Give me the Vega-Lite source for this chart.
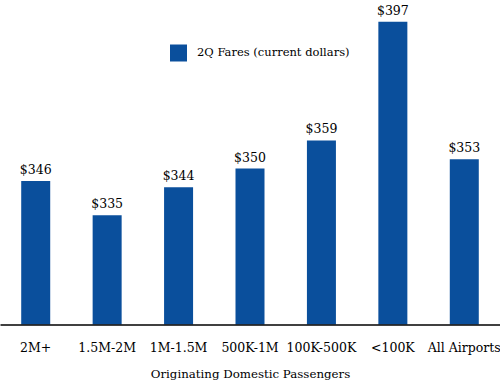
{
  "$schema": "https://vega.github.io/schema/vega-lite/v6.json",
  "autosize": "none",
  "width": 500,
  "height": 312,
  "padding": {"left": 0, "top": 12.5, "right": 0, "bottom": 60.5},
  "background": "white",
  "config": {
    "view": {"stroke": null},
    "font": "DejaVu Serif"
  },
  "data": {
    "values": [
      {"group": "2M+", "fare": 346, "series": "2Q Fares (current dollars)"},
      {"group": "1.5M-2M", "fare": 335, "series": "2Q Fares (current dollars)"},
      {"group": "1M-1.5M", "fare": 344, "series": "2Q Fares (current dollars)"},
      {"group": "500K-1M", "fare": 350, "series": "2Q Fares (current dollars)"},
      {"group": "100K-500K", "fare": 359, "series": "2Q Fares (current dollars)"},
      {"group": "<100K", "fare": 397, "series": "2Q Fares (current dollars)"},
      {"group": "All Airports", "fare": 353, "series": "2Q Fares (current dollars)"}
    ]
  },
  "encoding": {
    "x": {
      "field": "group",
      "type": "nominal",
      "sort": null,
      "scale": {"paddingInner": 0, "paddingOuter": 0},
      "axis": {
        "title": "Originating Domestic Passengers",
        "titleFont": "DejaVu Serif",
        "titleFontSize": 11.8,
        "titleFontWeight": "normal",
        "titleColor": "black",
        "titlePadding": 14,
        "labelFont": "DejaVu Serif",
        "labelFontSize": 12.5,
        "labelColor": "black",
        "labelAngle": 0,
        "labelPadding": 17,
        "labelOverlap": false,
        "ticks": false,
        "tickSize": 0,
        "domainColor": "black",
        "domainWidth": 1.5,
        "grid": false,
        "zindex": 1
      }
    },
    "y": {
      "field": "fare",
      "type": "quantitative",
      "scale": {"domain": [300, 400], "zero": false},
      "axis": null
    }
  },
  "layer": [
    {
      "mark": {"type": "bar", "width": 29},
      "encoding": {
        "y2": {"datum": 300},
        "color": {
          "field": "series",
          "type": "nominal",
          "scale": {"range": ["#0a4f9c"]},
          "legend": {
            "title": null,
            "orient": "none",
            "legendX": 170,
            "legendY": 32,
            "symbolType": "square",
            "symbolSize": 289,
            "symbolStrokeWidth": 0,
            "symbolOpacity": 1,
            "labelFont": "DejaVu Serif",
            "labelFontSize": 11.5,
            "labelColor": "black",
            "labelOffset": 10,
            "labelLimit": 300,
            "padding": 0
          }
        }
      }
    },
    {
      "mark": {"type": "text", "baseline": "alphabetic", "dy": -7, "fontSize": 12.5, "color": "black", "font": "DejaVu Serif"},
      "encoding": {
        "text": {"field": "fare", "type": "quantitative", "format": "$.0f"}
      }
    }
  ]
}
